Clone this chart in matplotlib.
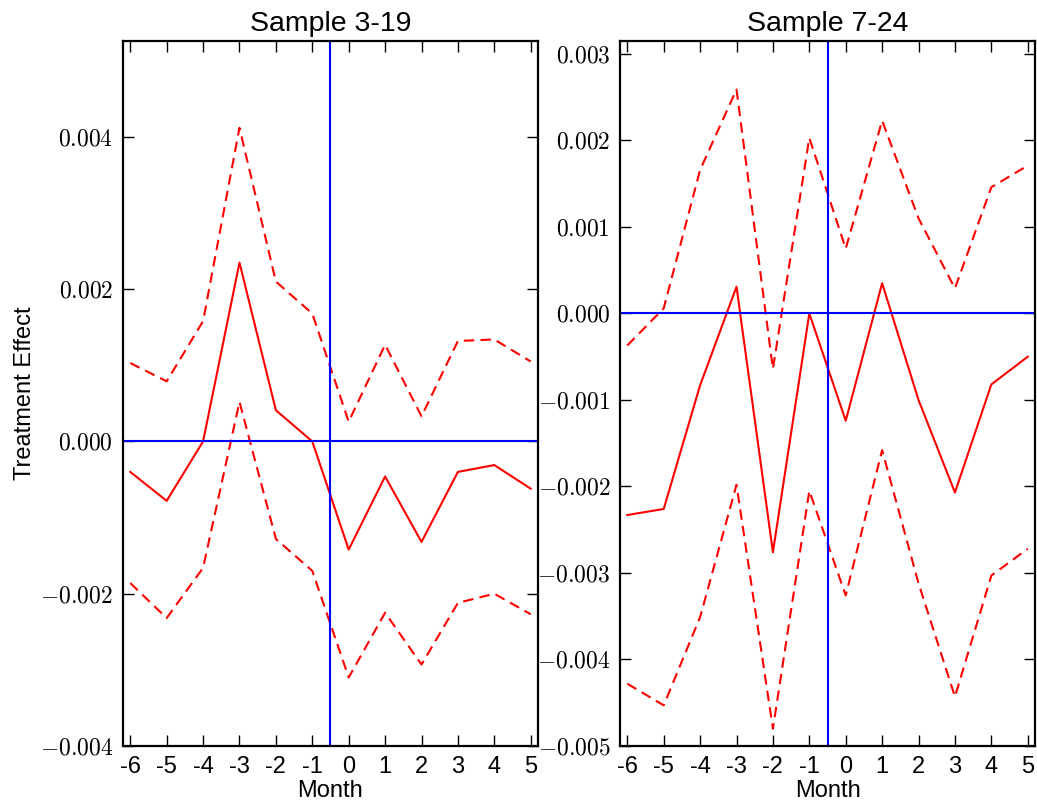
import matplotlib
matplotlib.use('Agg')
import matplotlib.pyplot as plt

# Months relative to treatment
months = [-6, -5, -4, -3, -2, -1, 0, 1, 2, 3, 4, 5]
month_labels = ['-6', '-5', '-4', '-3', '-2', '-1', '0', '1', '2', '3', '4', '5']

# Sample 3-19: estimate and confidence band
est_319 = [-0.00040, -0.00078, 0.00000, 0.00235, 0.00041, 0.00000,
           -0.00142, -0.00046, -0.00132, -0.00040, -0.00031, -0.00062]
upper_319 = [0.00103, 0.00079, 0.00158, 0.00412, 0.00210, 0.00168,
             0.00026, 0.00127, 0.00033, 0.00132, 0.00134, 0.00105]
lower_319 = [-0.00186, -0.00232, -0.00166, 0.00052, -0.00128, -0.00170,
             -0.00310, -0.00225, -0.00293, -0.00212, -0.00200, -0.00227]

# Sample 7-24: estimate and confidence band
est_724 = [-0.00233, -0.00226, -0.00083, 0.00031, -0.00276, 0.00000,
           -0.00124, 0.00035, -0.00100, -0.00207, -0.00082, -0.00050]
upper_724 = [-0.00037, 0.00006, 0.00166, 0.00259, -0.00064, 0.00203,
             0.00075, 0.00223, 0.00110, 0.00029, 0.00146, 0.00171]
lower_724 = [-0.00428, -0.00453, -0.00351, -0.00198, -0.00480, -0.00205,
             -0.00326, -0.00158, -0.00312, -0.00443, -0.00303, -0.00272]

yticks_319 = [-0.004, -0.002, 0.000, 0.002, 0.004]
yticks_724 = [-0.005, -0.004, -0.003, -0.002, -0.001, 0.000, 0.001, 0.002, 0.003]

plt.rcParams['font.family'] = 'Liberation Sans'
plt.rcParams['mathtext.fontset'] = 'cm'


def ylabels(ticks):
    # serif (mathtext) labels with a real minus sign
    return [r'$0.000$' if t == 0 else r'$%.3f$' % t for t in ticks]


def panel(ax, est, upper, lower, yticks, ylim, title):
    ax.plot(months, est, color='red', lw=1.5)
    ax.plot(months, upper, color='red', lw=1.5, dashes=(5, 3))
    ax.plot(months, lower, color='red', lw=1.5, dashes=(5, 3))
    ax.axhline(0, color='blue', lw=1.5)
    ax.axvline(-0.5, color='blue', lw=1.5)
    ax.set_xlim(-6.2, 5.2)
    ax.set_ylim(ylim)
    ax.set_xticks(months)
    ax.set_xticklabels(month_labels, fontsize=17)
    ax.set_yticks(yticks)
    ax.set_yticklabels(ylabels(yticks), fontsize=17)
    ax.tick_params(direction='in', top=True, right=True, length=8, width=1, pad=7)
    for s in ax.spines.values():
        s.set_linewidth(1.6)
    ax.set_xlabel('Month', fontsize=17, labelpad=2)
    ax.set_title(title, fontsize=20.5, pad=7)


fig = plt.figure(figsize=(10.37, 8.09), dpi=100)
ax1 = fig.add_axes([0.1186, 0.0779, 0.4002, 0.8714])
ax2 = fig.add_axes([0.5979, 0.0779, 0.4002, 0.8714])

panel(ax1, est_319, upper_319, lower_319, yticks_319, (-0.004, 0.00526), 'Sample 3-19')
panel(ax2, est_724, upper_724, lower_724, yticks_724, (-0.005, 0.00315), 'Sample 7-24')
ax1.set_ylabel('Treatment Effect', fontsize=17, labelpad=3)

fig.savefig('out.png', dpi=100, facecolor='white')
